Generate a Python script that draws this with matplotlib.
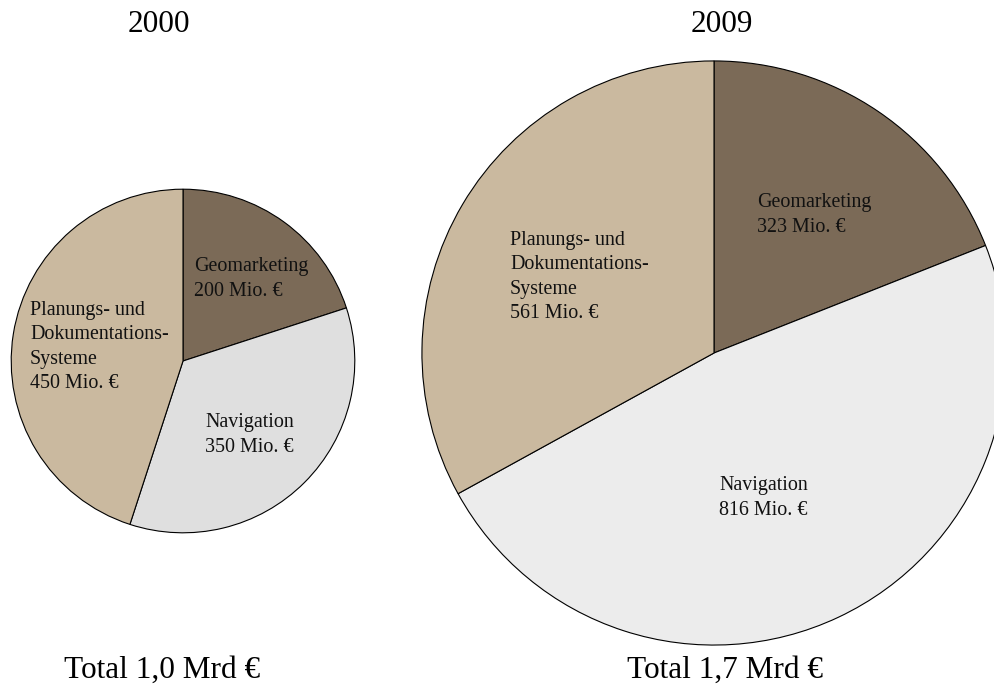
import matplotlib.pyplot as plt

plt.rcParams['font.family'] = ['Liberation Serif', 'DejaVu Serif']

## Data
years = ['2000', '2009']
segments = ['Geomarketing', 'Navigation', 'Planungs- und\nDokumentations-\nSysteme']
values_2000 = [200, 350, 450]
values_2009 = [323, 816, 561]
totals = ['Total 1,0 Mrd €', 'Total 1,7 Mrd €']

colors_2000 = ['#7b6a57', '#dfdfdf', '#cab99f']
colors_2009 = ['#7b6a57', '#ececec', '#cab99f']

W, H = 995, 686

# layout in pixels (from top-left)
pie_centers = [(183, 361), (714, 353)]
px_per_mio = 0.1718
title_pos = [(159, 24), (722, 24)]
total_pos = [(162, 670), (725, 670)]
# label anchors (left x, centre y) for Geo / Navigation / Planungs
label_pos = [
    [(194, 279), (205, 435), (30, 347)],
    [(757, 215), (719, 498), (510, 277)],
]

fig = plt.figure(figsize=(W / 100, H / 100), dpi=100)
ax = fig.add_axes([0, 0, 1, 1])

def flip(y):
    return H - y

for i, (vals, cols) in enumerate([(values_2000, colors_2000),
                                  (values_2009, colors_2009)]):
    cx, cy = pie_centers[i]
    r = px_per_mio * sum(vals)
    ax.pie(vals, colors=cols, startangle=90, counterclock=False,
           center=(cx, flip(cy)), radius=r, frame=False,
           wedgeprops=dict(edgecolor='black', linewidth=0.8))
    for j, v in enumerate(vals):
        lx, ly = label_pos[i][j]
        ax.text(lx, flip(ly), '%s\n%d Mio. €' % (segments[j], v),
                ha='left', va='center', fontsize=14.4, linespacing=1.37,
                color='#111111')
    tx, ty = title_pos[i]
    ax.text(tx, flip(ty), years[i], ha='center', va='center', fontsize=22.5)
    sx, sy = total_pos[i]
    ax.text(sx, flip(sy), totals[i], ha='center', va='center', fontsize=22.5)

ax.set_xlim(0, W)
ax.set_ylim(0, H)
ax.set_aspect('equal')
ax.axis('off')

fig.savefig('out.png', dpi=100, facecolor='white')
